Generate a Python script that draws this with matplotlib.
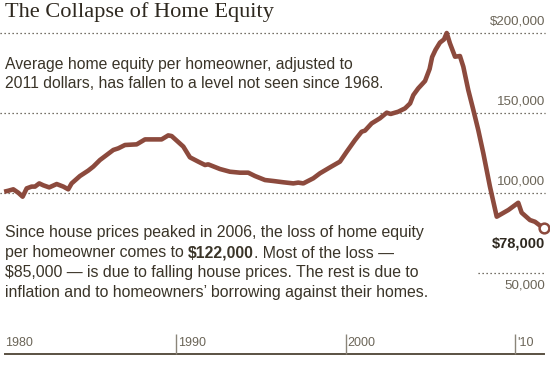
import matplotlib
matplotlib.use("Agg")
import matplotlib.pyplot as plt

W, H = 550, 376

# average home equity per homeowner, thousands of 2011 dollars
years = [1979.85, 1980.09, 1980.39, 1980.68, 1980.94, 1981.18, 1981.47, 1981.67,
         1981.92, 1982.16, 1982.51, 1982.95, 1983.34, 1983.63, 1983.83, 1984.32,
         1984.81, 1985.11, 1985.5, 1985.8, 1986.29, 1986.58, 1986.98, 1987.67,
         1988.16, 1989.14, 1989.53, 1989.73, 1990.42, 1990.81, 1991.3, 1991.7,
         1991.89, 1992.58, 1993.17, 1993.76, 1994.25, 1994.65, 1995.24, 1995.73,
         1996.32, 1996.91, 1997.2, 1997.5, 1998.09, 1998.48, 1999.07, 1999.66,
         2000.06, 2000.55, 2000.94, 2001.14, 2001.53, 2002.02, 2002.42, 2002.65,
         2003.1, 2003.5, 2003.8, 2003.99, 2004.28, 2004.68, 2004.95, 2005.1,
         2005.3, 2005.56, 2005.8, 2005.96, 2006.15, 2006.45, 2006.74, 2006.94,
         2007.23, 2007.53, 2007.82, 2008.12, 2008.51, 2008.91, 2009.6, 2010.18,
         2010.38, 2010.87, 2011.17, 2011.42, 2011.72]
equity = [100.8, 101.4, 102.3, 100.2, 97.7, 102.9, 104.0, 104.0,
          106.0, 104.8, 103.5, 105.6, 104.0, 102.3, 106.0, 110.6,
          114.0, 116.5, 120.6, 123.0, 126.9, 127.9, 130.0, 130.4,
          133.5, 133.5, 136.0, 135.6, 129.0, 122.3, 119.6, 117.5,
          117.9, 115.0, 113.3, 112.7, 112.7, 110.6, 108.1, 107.5,
          106.7, 106.0, 106.5, 106.0, 109.2, 112.3, 116.0, 119.6,
          125.8, 133.1, 138.3, 139.0, 143.5, 146.7, 150.2, 149.4,
          150.8, 152.9, 156.0, 161.2, 165.4, 170.0, 177.5, 185.0,
          189.5, 194.0, 196.0, 200.0, 193.5, 185.2, 185.6, 178.9,
          164.4, 151.9, 139.4, 124.8, 104.0, 85.2, 89.4, 93.9,
          87.7, 83.1, 82.0, 80.0, 78.0]

grid_values = [200000, 150000, 100000, 50000]
grid_labels = ["$200,000", "150,000", "100,000", "50,000"]
tick_years = [1990, 2000, 2010]
year_labels = ["1980", "1990", "2000", "'10"]
year_label_x = [1979.9, 1990.1, 2000.1, 2010.1]
last_label = "$78,000"

title = "The Collapse of Home Equity"
intro = ["Average home equity per homeowner, adjusted to",
         "2011 dollars, has fallen to a level not seen since 1968."]
note = [[("Since house prices peaked in 2006, the loss of home equity", "normal")],
        [("per homeowner comes to ", "normal"), ("$122,000", "bold"),
         (". Most of the loss \u2014", "normal")],
        [("$85,000 \u2014 is due to falling house prices. The rest is due to", "normal")],
        [("inflation and to homeowners\u2019 borrowing against their homes.", "normal")]]

LINE = "#8c4a3d"
INK = "#2e281f"
GREY = "#6b6558"
SANS = "Liberation Sans"

fig = plt.figure(figsize=(W / 100, H / 100), dpi=100)
ax = fig.add_axes([0, 0, 1, 1])
ax.set_xlim(1979.605, 2012.053)
ax.set_ylim(-14375, 220625)
ax.axis("off")


def fy(py):
    return 1 - py / H


# dotted gridlines
grid_start = [0, 0, 0, 478 / W]
for v, x0 in zip(grid_values, grid_start):
    ax.axhline(v, xmin=x0, xmax=545 / W, color="#4a4438", lw=0.9,
               ls=(0, (1, 2.2)), zorder=1)

# value labels on the right
label_offset = [7000, 7000, 7000, -7500]
for v, lab, off in zip(grid_values, grid_labels, label_offset):
    ax.text(545 / W, v + off, lab, transform=ax.get_yaxis_transform(),
            ha="right", va="center", fontsize=9.6, color=GREY,
            family=SANS, parse_math=False)

# baseline and year ticks
ax.axhline(-600, xmin=5 / W, xmax=544 / W, color="#5a5142", lw=1.4, zorder=2)
ax.vlines(tick_years, -600, 11800, color="#8a857a", lw=1.0, zorder=2)
for x, lab in zip(year_label_x, year_labels):
    ax.text(x, 6200, lab, ha="left", va="center", fontsize=9,
            color=GREY, family=SANS)

# the series
vals = [e * 1000 for e in equity]
ax.plot(years, vals, color=LINE, lw=3.3, solid_joinstyle="round",
        solid_capstyle="butt", zorder=3)
ax.plot(years[-1], vals[-1], "o", ms=7, mfc="white", mec=LINE, mew=1.8,
        zorder=4)
ax.text(545 / W, 68700, last_label, transform=ax.get_yaxis_transform(),
        ha="right", va="center", fontsize=10.5, fontweight="bold",
        color=INK, family=SANS, parse_math=False)

# title and notes
fig.text(5 / W, fy(12), title, ha="left", va="center", fontsize=16.1,
         family="Liberation Serif", color=INK)

for i, line in enumerate(intro):
    fig.text(5 / W, fy(64 + 19.5 * i), line, ha="left", va="center",
             fontsize=11.3, family=SANS, color="#3a3428", parse_math=False)

renderer = fig.canvas.get_renderer()
for i, runs in enumerate(note):
    x = 5 / W
    for txt, weight in runs:
        t = fig.text(x, fy(233 + 20 * i), txt, ha="left", va="center",
                     fontsize=11.4, family=SANS, fontweight=weight,
                     color="#3a3428", parse_math=False)
        bb = t.get_window_extent(renderer)
        x += bb.width / W

fig.savefig("out.png", dpi=100)
